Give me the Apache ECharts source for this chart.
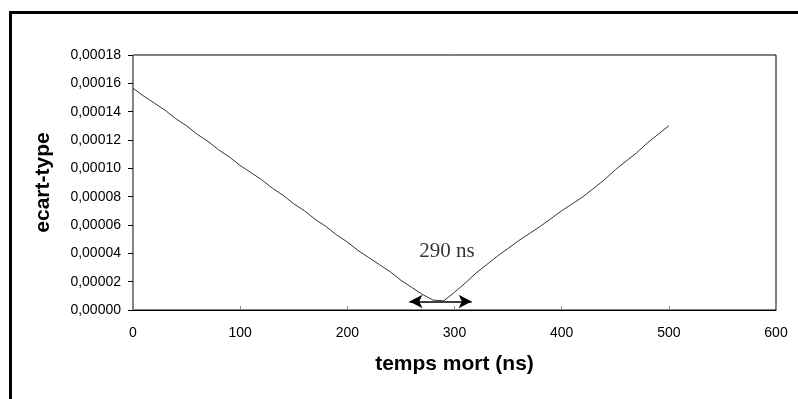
<!DOCTYPE html>
<html>
<head>
<meta charset="utf-8">
<script src="https://cdn.jsdelivr.net/npm/echarts@6/dist/echarts.min.js"></script>
<style>
html,body{margin:0;padding:0;background:#fff;}
#chart{width:798px;height:399px;}
</style>
</head>
<body>
<div id="chart"></div>
<script>
// temps mort (ns)
var tempsMort = [0,10,20,30,40,50,60,70,80,90,100,110,120,130,140,150,160,170,180,190,200,210,220,230,240,250,260,270,280,290,300,310,320,330,340,350,360,370,380,390,400,410,420,430,440,450,460,470,480,490,500];
// ecart-type
var ecartType = [0.0001565,0.000151,0.000146,0.000141,0.000135,0.000130,0.000124,0.000119,0.000113,0.000108,0.000102,0.000097,0.000092,0.000086,0.000081,0.000075,0.000070,0.000064,0.000059,0.000053,0.000048,0.000042,0.000037,0.000032,0.000027,0.000021,0.000016,0.000011,0.000007,0.0000065,0.0000125,0.000019,0.000026,0.000032,0.000038,0.0000435,0.000049,0.000054,0.000059,0.0000645,0.000070,0.000075,0.000080,0.000086,0.000092,0.000099,0.000105,0.000111,0.000118,0.000124,0.000130];
// annotation: double arrow around minimum and its label
var arrowX = [258, 316];
var arrowY = 0.000006;
var annotText = '290 ns';
var annotPos = [293, 0.0000415];

var chart = echarts.init(document.getElementById('chart'), null, {renderer:'canvas'});
var data = tempsMort.map(function(x,i){return [x, ecartType[i]];});
chart.setOption({
  animation:false,
  backgroundColor:'#fff',
  graphic:[{
    type:'rect', silent:true, z:-1,
    shape:{x:10.5, y:12.5, width:820, height:420},
    style:{fill:'none', stroke:'#000', lineWidth:3}
  }],
  grid:{left:133, right:22, top:55, bottom:89, show:true, borderColor:'#000', borderWidth:1, backgroundColor:'transparent'},
  xAxis:{
    type:'value', min:0, max:600, interval:100,
    name:'temps mort (ns)', nameLocation:'middle', nameGap:44,
    nameTextStyle:{fontFamily:'Liberation Sans, Arial', fontWeight:'bold', fontSize:21, color:'#000'},
    axisLine:{show:true, lineStyle:{color:'#000', width:1}},
    axisTick:{show:true, inside:true, length:4, lineStyle:{color:'#888'}},
    axisLabel:{fontFamily:'Liberation Sans, Arial', fontSize:14, color:'#000', margin:16},
    splitLine:{show:false}
  },
  yAxis:{
    type:'value', min:0, max:0.00018, interval:0.00002,
    name:'ecart-type', nameLocation:'middle', nameGap:79, nameRotate:90,
    nameTextStyle:{fontFamily:'Liberation Sans, Arial', fontWeight:'bold', fontSize:21, color:'#000'},
    axisLine:{show:true, lineStyle:{color:'#888', width:1}},
    axisTick:{show:true, length:5, lineStyle:{color:'#000'}},
    axisLabel:{fontFamily:'Liberation Sans, Arial', fontSize:14, color:'#000', margin:12,
      formatter:function(v){return v.toFixed(5).replace('.',',');}},
    splitLine:{show:false}
  },
  series:[{
    type:'line', data:data, showSymbol:false, symbol:'none',
    lineStyle:{color:'#333', width:1},
    markLine:{
      silent:true, symbol:['arrow','arrow'], symbolSize:[10,13],
      label:{show:false},
      lineStyle:{color:'#000', width:1.5, type:'solid'},
      data:[[{coord:[arrowX[0], arrowY]},{coord:[arrowX[1], arrowY]}]]
    }
  },{
    type:'scatter', symbolSize:0, silent:true,
    data:[annotPos],
    label:{show:true, position:'inside', formatter:annotText,
      fontFamily:'Liberation Serif, Times New Roman', fontSize:21, color:'#000'}
  }]
});
</script>
</body>
</html>
